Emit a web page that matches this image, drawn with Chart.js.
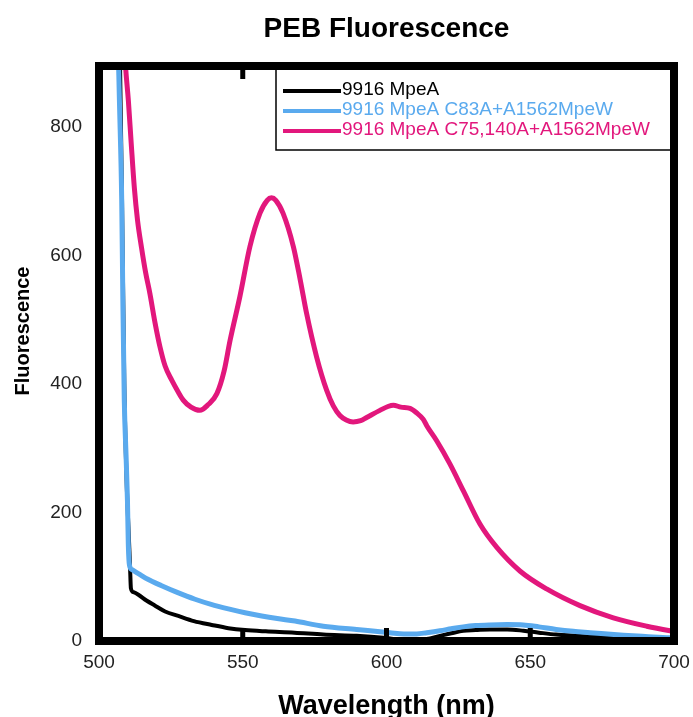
<!DOCTYPE html>
<html>
<head>
<meta charset="utf-8">
<title>PEB Fluorescence</title>
<script src="https://cdn.jsdelivr.net/npm/chart.js@4"></script>
<style>
  html, body { margin: 0; padding: 0; background: #fff; }
  #wrap { width: 693px; height: 717px; }
</style>
</head>
<body>
<div id="wrap"><canvas id="fluoChart" width="693" height="717"></canvas></div>
<script>
// ── Datos: espectros de emisión (nm, intensidad) ──

const chartTitle = 'PEB Fluorescence';
const xTitle = 'Wavelength (nm)';
const yTitle = 'Fluorescence';

const seriesLabels = [
  '9916 MpeA',
  '9916 MpeA C83A+A1562MpeW',
  '9916 MpeA C75,140A+A1562MpeW',
];
const seriesColors = ['#000000', '#5aaaee', '#e2177c'];

const mpeaWl = [507.3, 508.0, 508.8, 509.6, 510.4, 510.8, 511.1, 512.0, 513.7, 516.5, 519.5, 523.0, 527.6, 533.0, 539.2, 545.0, 550.8, 558.0, 568.0, 578.0, 589.6, 599.0, 605.0, 610.5, 614.0, 618.6, 622.5, 626.7, 631.0, 636.0, 642.0, 647.6, 653.0, 659.0, 670.8, 682.4, 698.6, 700];
const mpeaVal = [900, 690, 400, 250, 160, 115, 82, 76, 72, 63, 55, 46, 39, 31, 25, 20, 17, 15, 13, 10, 8, 5, 2, 1, 3, 8, 12, 16, 17, 18, 18, 16, 13, 10, 7, 5, 3, 3];

const c83aWl = [506.8, 507.1, 507.9, 508.3, 508.8, 509.4, 509.9, 510.2, 510.6, 511.5, 513.7, 517.0, 521.8, 527.0, 533.4, 539.0, 545.0, 550.8, 556.6, 562.0, 568.2, 578.0, 589.6, 601.2, 606.0, 610.5, 614.0, 618.6, 622.5, 626.7, 631.0, 636.0, 642.0, 647.6, 653.0, 659.0, 665.0, 670.8, 682.4, 690.0, 698.6, 700];
const c83aVal = [900, 842, 686, 530, 374, 290, 218, 150, 118, 111, 105, 96, 86, 76, 65, 57, 50, 44, 39, 35, 31, 23, 18, 13, 11, 11, 13, 16, 19, 22, 24, 25, 25.5, 25, 22, 18, 15, 13, 9, 7, 5, 5];

const c75Wl = [508.9, 509.3, 510.2, 511.2, 512.3, 513.4, 514.8, 516.2, 517.7, 519.5, 521.2, 523.0, 525.3, 527.5, 529.3, 532.0, 535.1, 538.0, 541.0, 543.5, 545.6, 549.0, 552.5, 556.0, 558.5, 560.0, 561.5, 564.0, 567.6, 570.0, 572.2, 575.7, 579.2, 581.5, 583.8, 586.0, 588.4, 591.0, 593.1, 597.7, 600.5, 602.4, 605.0, 608.2, 610.5, 612.8, 614.0, 617.4, 622.0, 626.7, 632.5, 638.3, 646.4, 655.7, 667.3, 678.9, 690.5, 698.6, 700];
const c75Val = [920, 890, 842, 775, 705, 655, 612, 574, 541, 495, 458, 428, 406, 388, 375, 364, 359, 368, 385, 420, 468, 536, 614, 666, 686, 690, 686, 666, 614, 562, 510, 442, 390, 366, 351, 344, 341, 343, 348, 359, 365, 367, 364, 362, 355, 345, 335, 312, 276, 234, 182, 146, 109, 81, 55, 36, 23, 16, 15];

const xTickValues = [500, 550, 600, 650, 700];
const yTickValues = [0, 200, 400, 600, 800];
const xInnerTicks = [550, 600, 650];

const FONT = '"Liberation Sans", Arial, sans-serif';

const toPoints = (xs, ys) => xs.map((x, i) => ({ x, y: ys[i] }));

// ── Títulos (centrados sobre el área del gráfico) ──

const titlesPlugin = {
  id: 'titles',
  afterDraw(chart) {
    const { ctx, chartArea: a } = chart;
    const cx = (a.left + a.right) / 2;
    ctx.save();
    ctx.fillStyle = '#000';
    ctx.textAlign = 'center';
    ctx.textBaseline = 'alphabetic';

    ctx.font = `bold 28px ${FONT}`;
    ctx.fillText(chartTitle, cx, 37);

    ctx.font = `bold 27px ${FONT}`;
    ctx.fillText(xTitle, cx, 714);

    ctx.translate(29, 331);
    ctx.rotate(-Math.PI / 2);
    ctx.font = `bold 20px ${FONT}`;
    ctx.fillText(yTitle, 0, 0);
    ctx.restore();
  },
};

// ── Marco grueso + marcas hacia dentro ──

const framePlugin = {
  id: 'frame',
  afterDatasetsDraw(chart) {
    const { ctx, chartArea: a, scales } = chart;
    ctx.save();
    ctx.fillStyle = '#000';
    for (const v of xInnerTicks) {
      const px = scales.x.getPixelForValue(v);
      ctx.fillRect(px - 2.5, a.bottom - 13, 5, 13);
      ctx.fillRect(px - 2.5, a.top, 5, 13);
    }
    ctx.strokeStyle = '#000';
    ctx.lineWidth = 8;
    ctx.strokeRect(a.left, a.top, a.right - a.left, a.bottom - a.top);
    ctx.restore();
  },
};

// ── Leyenda en recuadro (arriba a la derecha) ──

const boxLegendPlugin = {
  id: 'boxLegend',
  afterDraw(chart) {
    const { ctx, chartArea: a } = chart;
    const left = 276, bottom = 150;
    ctx.save();
    ctx.fillStyle = '#fff';
    ctx.fillRect(left, a.top, a.right - left, bottom - a.top);
    ctx.strokeStyle = '#000';
    ctx.lineWidth = 1.5;
    ctx.strokeRect(left, a.top, a.right - left, bottom - a.top);

    ctx.font = `19px ${FONT}`;
    ctx.textBaseline = 'middle';
    chart.data.datasets.forEach((ds, i) => {
      const y = 90 + i * 20;
      ctx.strokeStyle = ds.borderColor;
      ctx.lineWidth = 4;
      ctx.beginPath();
      ctx.moveTo(283, y + 1);
      ctx.lineTo(341, y + 1);
      ctx.stroke();
      ctx.fillStyle = ds.borderColor;
      ctx.fillText(ds.label, 342, y);
    });

    // el marco vuelve a ir encima del recuadro
    ctx.strokeStyle = '#000';
    ctx.lineWidth = 8;
    ctx.strokeRect(a.left, a.top, a.right - a.left, a.bottom - a.top);
    ctx.restore();
  },
};

const ctx = document.getElementById('fluoChart').getContext('2d');

new Chart(ctx, {
  type: 'line',
  data: {
    datasets: [
      {
        label: seriesLabels[0],
        data: toPoints(mpeaWl, mpeaVal),
        borderColor: seriesColors[0],
        borderWidth: 4,
        order: 3,
      },
      {
        label: seriesLabels[1],
        data: toPoints(c83aWl, c83aVal),
        borderColor: seriesColors[1],
        borderWidth: 5,
        order: 2,
      },
      {
        label: seriesLabels[2],
        data: toPoints(c75Wl, c75Val),
        borderColor: seriesColors[2],
        borderWidth: 5,
        order: 1,
      },
    ],
  },
  options: {
    responsive: false,
    animation: false,
    parsing: false,
    elements: {
      point: { radius: 0 },
      line: { cubicInterpolationMode: 'monotone', fill: false },
    },
    layout: { autoPadding: false, padding: { left: 0, right: 19, top: 66, bottom: 0 } },
    plugins: {
      legend: { display: false },
      tooltip: { enabled: false },
      title: { display: false },
    },
    scales: {
      x: {
        type: 'linear',
        min: 500,
        max: 700,
        grid: { display: false, drawTicks: false },
        border: { display: false },
        afterFit(scale) {
          scale.height = 76;
          // las etiquetas de los extremos pueden salirse del área
          scale.paddingLeft = 0;
          scale.paddingRight = 0;
        },
        afterBuildTicks(scale) { scale.ticks = xTickValues.map(v => ({ value: v })); },
        ticks: {
          color: '#222',
          padding: 10,
          maxRotation: 0,
          font: { family: FONT, size: 19 },
        },
      },
      y: {
        type: 'linear',
        min: 0,
        max: 895,
        grid: { display: false, drawTicks: false },
        border: { display: false },
        afterFit(scale) {
          scale.width = 99;
          scale.paddingTop = 0;
          scale.paddingBottom = 0;
        },
        afterBuildTicks(scale) { scale.ticks = yTickValues.map(v => ({ value: v })); },
        ticks: {
          color: '#222',
          padding: 17,
          font: { family: FONT, size: 19 },
        },
      },
    },
  },
  plugins: [framePlugin, boxLegendPlugin, titlesPlugin],
});
</script>
</body>
</html>
